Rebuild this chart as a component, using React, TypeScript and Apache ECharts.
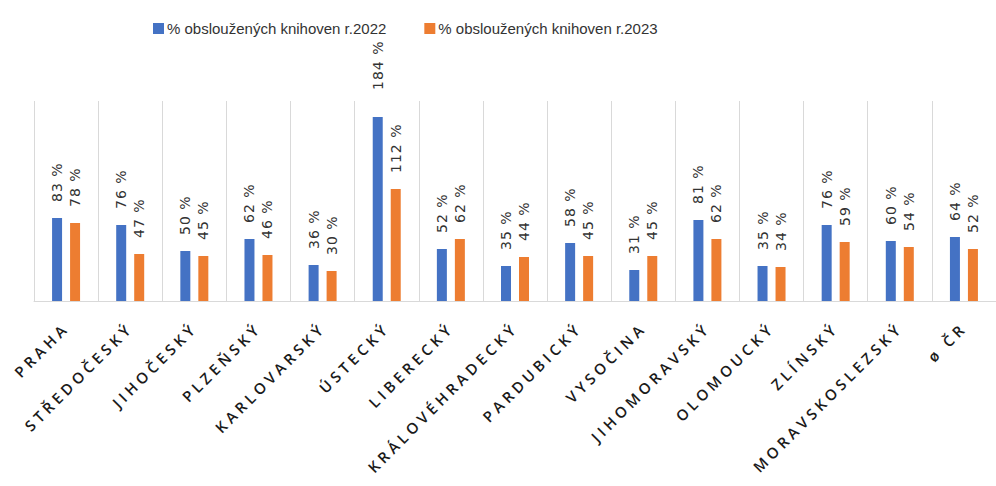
import React, { useEffect, useRef } from "react";
import * as echarts from "echarts";

const categories = [
  "PRAHA", "STŘEDOČESKÝ", "JIHOČESKÝ", "PLZEŇSKÝ", "KARLOVARSKÝ", "ÚSTECKÝ",
  "LIBERECKÝ", "KRÁLOVÉHRADECKÝ", "PARDUBICKÝ", "VYSOČINA", "JIHOMORAVSKÝ",
  "OLOMOUCKÝ", "ZLÍNSKÝ", "MORAVSKOSLEZSKÝ", "ø ČR",
];
const values2022 = [83, 76, 50, 62, 36, 184, 52, 35, 58, 31, 81, 35, 76, 60, 64];
const values2023 = [78, 47, 45, 46, 30, 112, 62, 44, 45, 45, 62, 34, 59, 54, 52];
const seriesNames = ["% obsloužených knihoven r.2022", "% obsloužených knihoven r.2023"];

export default function App() {
  const ref = useRef<HTMLDivElement>(null);
  useEffect(() => {
    if (!ref.current) return;
    const chart = echarts.init(ref.current, null, { renderer: "svg" });
    const label = {
      show: true,
      position: "top" as const,
      rotate: 90,
      align: "left" as const,
      verticalAlign: "middle" as const,
      distance: 16,
      formatter: (p: any) => `${p.value} %`,
      color: "#333333",
      fontSize: 14,
      fontFamily: "DejaVu Sans",
    };
    chart.setOption({
      animation: false,
      backgroundColor: "#ffffff",
      legend: {
        left: 148,
        top: 16,
        itemWidth: 11,
        itemHeight: 11,
        itemGap: 38,
        icon: "rect",
        textStyle: { color: "#333333", fontSize: 15, fontFamily: "Liberation Sans", padding: [0, 0, 0, -2] },
        data: seriesNames,
      },
      grid: { left: 34, right: -9, top: 101, bottom: 185, containLabel: false },
      xAxis: {
        type: "category",
        data: categories,
        axisTick: { show: false },
        axisLine: { lineStyle: { color: "#d9d9d9", width: 1 } },
        splitLine: { show: true, lineStyle: { color: "#d9d9d9", width: 1 } },
        axisLabel: {
          interval: 0,
          rotate: 45,
          margin: 24,
          color: "#1a1a1a",
          fontSize: 15,
          fontWeight: 600,
          fontFamily: "Open Sans",
        },
      },
      yAxis: {
        type: "value",
        min: 0,
        max: 200,
        show: false,
        splitLine: { show: false },
      },
      series: [
        {
          name: seriesNames[0],
          type: "bar",
          data: values2022.map((v) => (v > 150 ? { value: v, label: { distance: 27 } } : v)),
          barWidth: 10,
          barGap: "80%",
          itemStyle: { color: "#4472C4" },
          label,
        },
        {
          name: seriesNames[1],
          type: "bar",
          data: values2023,
          barWidth: 10,
          barGap: "80%",
          itemStyle: { color: "#ED7D31" },
          label,
        },
      ],
    });
    return () => chart.dispose();
  }, []);
  return (
    <>
      <style>{`body{margin:0;overflow:hidden} #chart text[style*="Open Sans"]{letter-spacing:4px} #chart text[style*="DejaVu Sans"]{letter-spacing:1px}`}</style>
      <div id="chart" ref={ref} style={{ width: 996, height: 486 }} />
    </>
  );
}
